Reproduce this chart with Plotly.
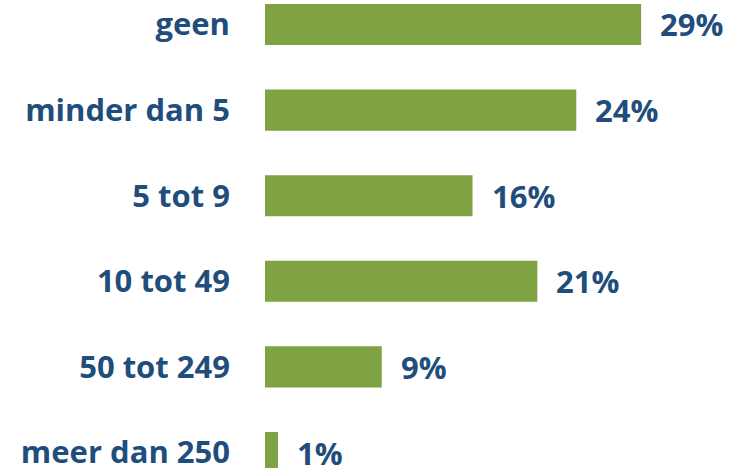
import plotly.graph_objects as go

categories = ["geen", "minder dan 5", "5 tot 9", "10 tot 49", "50 tot 249", "meer dan 250"]
values = [29, 24, 16, 21, 9, 1]
value_labels = ["29%", "24%", "16%", "21%", "9%", "1%"]

BAR = "#7FA243"
TXT = "#1F4E7D"
FONT = "Open Sans"

fig = go.Figure()
fig.add_trace(go.Bar(
    y=categories, x=values, orientation="h",
    marker=dict(color=BAR, line=dict(width=0)),
    width=0.48, hoverinfo="skip",
))

for c, v, t in zip(categories, values, value_labels):
    fig.add_annotation(x=v, y=c, text=t, showarrow=False, xanchor="left",
                       yanchor="middle", xshift=17,
                       font=dict(family=FONT, size=31, color=TXT, weight="bold"))

fig.update_layout(
    width=741, height=468,
    margin=dict(l=265, r=0, t=0, b=0, autoexpand=False),
    paper_bgcolor="white", plot_bgcolor="white",
    showlegend=False,
    xaxis=dict(range=[0, 36.7], visible=False, fixedrange=True, automargin=False),
    yaxis=dict(
        categoryorder="array", categoryarray=categories,
        range=[5.181, -0.286], automargin=False,
        showgrid=False, zeroline=False, showline=False, ticks="",
        ticklabelstandoff=34,
        tickfont=dict(family=FONT, size=31, color=TXT, weight="bold"),
    ),
)

fig.write_html("out.html", config={"displayModeBar": False},
               post_script="document.body.style.margin='0';document.body.style.overflow='hidden';")
